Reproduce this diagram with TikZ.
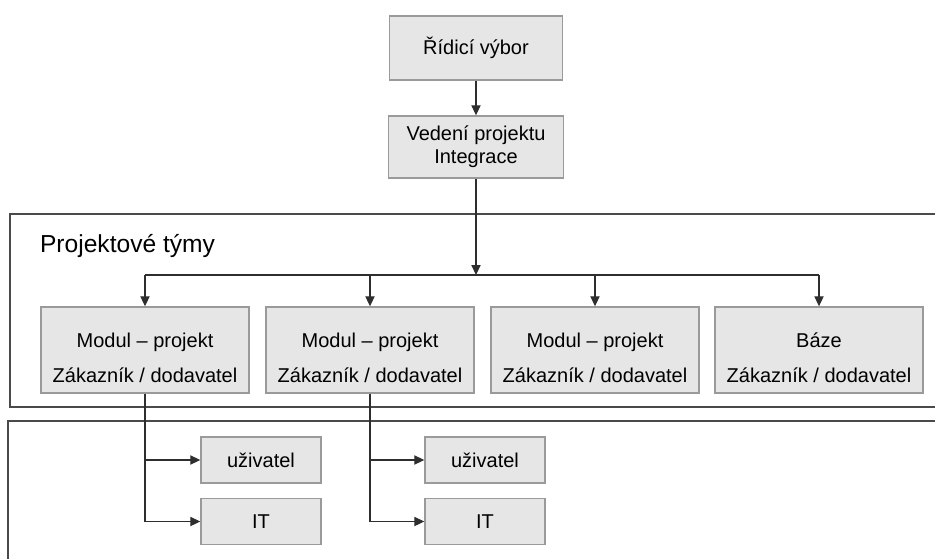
\documentclass[tikz,border=0pt]{standalone}
\usepackage{fontspec}
\setmainfont{Liberation Sans}
\usetikzlibrary{arrows.meta}
\definecolor{boxfill}{HTML}{E6E6E6}
\definecolor{boxline}{HTML}{9A9A9A}
\definecolor{linegray}{HTML}{2E2E2E}
\definecolor{framegray}{HTML}{4A4A4A}
\newcommand{\topstrut}{\rule{0pt}{15.3pt}}

\begin{document}
\begin{tikzpicture}[x=0.5pt,y=-0.5pt,
    box/.style={draw=boxline, fill=boxfill, line width=0.7pt, inner sep=0pt,
      align=center, font=\fontsize{10}{11.5}\selectfont},
    modbox/.style={box, minimum width=104pt, minimum height=43pt,
      font=\fontsize{10}{17.5}\selectfont},
    smallbox/.style={box, minimum width=60pt, minimum height=23pt},
    conn/.style={draw=linegray, line width=0.6pt},
    arr/.style={conn, -{Triangle[length=5pt,width=4.6pt]}},
    frame/.style={draw=framegray, line width=0.7pt}]
  \useasboundingbox (0,0) rectangle (935,558);

  % Draw frames
  \draw[frame] (940,214) -| (10,407) -- (940,407);
  \draw[frame] (940,421) -| (8,565);
  \node[anchor=west, font=\fontsize{12.3}{14}\selectfont] (tymy) at (33,246) {Projektové týmy};

  % Draw top boxes
  \node[box, minimum width=86.5pt, minimum height=32pt] (vybor) at (476,48) {Řídicí výbor};
  \node[box, minimum width=87.5pt, minimum height=31pt] (vedeni) at (476,147) {Vedení projektu\\Integrace};
  \draw[arr] (vybor) -- (vedeni);

  % Draw project teams
  \node[modbox] (m1) at (145,350) {\topstrut Modul – projekt\\Zákazník / dodavatel};
  \node[modbox] (m2) at (370,350) {\topstrut Modul – projekt\\Zákazník / dodavatel};
  \node[modbox] (m3) at (595,350) {\topstrut Modul – projekt\\Zákazník / dodavatel};
  \node[modbox] (baze) at (819,350) {\topstrut Báze\\Zákazník / dodavatel};

  \coordinate (split) at (476,275);
  \draw[arr] (vedeni) -- (split);
  \draw[conn] (m1.north |- split) -- (baze.north |- split);
  \foreach \m in {m1,m2,m3,baze}
    \draw[arr] (\m.north |- split) -- (\m.north);

  % Draw users and IT
  \node[smallbox] (u1) at (261,460) {uživatel};
  \node[smallbox] (it1) at (261,521.5) {IT};
  \node[smallbox] (u2) at (485,460) {uživatel};
  \node[smallbox] (it2) at (485,521.5) {IT};

  \foreach \m/\u/\t in {m1/u1/it1, m2/u2/it2} {
    \draw[conn] (\m.south) -- (\m.south |- \t.west);
    \draw[arr] (\m.south |- \u.west) -- (\u.west);
    \draw[arr] (\m.south |- \t.west) -- (\t.west);
  }
\end{tikzpicture}
\end{document}
